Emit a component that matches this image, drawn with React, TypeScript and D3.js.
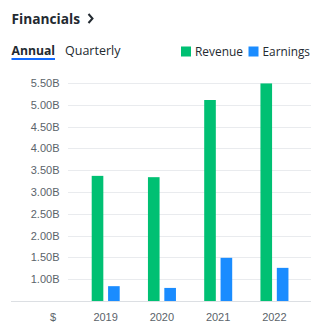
import React from "react";
import * as d3 from "d3";

const years = ["2019", "2020", "2021", "2022"];
const revenue = [3.37, 3.34, 5.11, 5.49];
const earnings = [0.84, 0.8, 1.49, 1.26];
const yTicks = [1.0, 1.5, 2.0, 2.5, 3.0, 3.5, 4.0, 4.5, 5.0, 5.5];
const series = ["Revenue", "Earnings"];
const colors = ["#00c073", "#1a8cff"];

const W = 321;
const H = 329;

export default function App() {
  const y = d3.scaleLinear().domain([0.5, 5.5]).range([301, 83]);
  const x0 = d3.scaleBand().domain(years).range([77.5, 302.5]).paddingInner(0).paddingOuter(0);
  const x1 = d3.scaleBand().domain(series).range([14.2, 42.2]).paddingInner(0.29).paddingOuter(0);
  const axisFont = "'Liberation Sans', Arial, sans-serif";
  const uiFont = "'Open Sans', 'Noto Sans', sans-serif";
  return (
    <svg width={W} height={H} style={{ position: "absolute", left: 0, top: 0, background: "#fff" }}>
      <text x={11.5} y={24} fontFamily={uiFont} fontWeight={700} fontSize={14.5} fill="#232a31" textLength={68.5} lengthAdjust="spacingAndGlyphs">Financials</text>
      <path d="M88.5,14 L92.5,18.5 L88.5,23" fill="none" stroke="#232a31" strokeWidth={2} />
      <text x={11.5} y={55} fontFamily={uiFont} fontWeight={700} fontSize={12.5} fill="#232a31" textLength={43.5} lengthAdjust="spacingAndGlyphs">Annual</text>
      <rect x={11.5} y={58} width={43.5} height={2} fill="#0f69ff" />
      <text x={65} y={55} fontFamily={uiFont} fontSize={12.5} fill="#232a31" textLength={55.5} lengthAdjust="spacingAndGlyphs">Quarterly</text>
      {series.map((s, i) => (
        <g key={s}>
          <rect x={i === 0 ? 181 : 248.5} y={46.5} width={10} height={10} fill={colors[i]} />
          <text x={i === 0 ? 195 : 262.5} y={56} fontFamily={uiFont} fontSize={12.5} fill="#232a31" textLength={i === 0 ? 48 : 47.5} lengthAdjust="spacingAndGlyphs">{s}</text>
        </g>
      ))}
      {yTicks.map((t) => (
        <g key={t}>
          <line x1={68} x2={311} y1={Math.round(y(t)) + 0.5} y2={Math.round(y(t)) + 0.5} stroke="#e9ebee" />
          <text x={59.5} y={y(t) + 4} textAnchor="end" fontFamily={axisFont} fontSize={11} fill="#5b636a">
            {d3.format(".2f")(t) + "B"}
          </text>
        </g>
      ))}
      {years.map((yr, i) => (
        <g key={yr} transform={`translate(${x0(yr)},0)`}>
          {[revenue[i], earnings[i]].map((v, j) => (
            <rect key={j} x={x1(series[j])} y={y(v)} width={x1.bandwidth()} height={y(0.5) - y(v)} fill={colors[j]} />
          ))}
          <text x={x0.bandwidth() / 2} y={320.5} textAnchor="middle" fontFamily={axisFont} fontSize={11} fill="#5b636a">{yr}</text>
        </g>
      ))}
      <line x1={11} x2={311} y1={301.5} y2={301.5} stroke="#dcdfe3" />
      <text x={56} y={320.5} textAnchor="end" fontFamily={axisFont} fontSize={11} fill="#5b636a">$</text>
    </svg>
  );
}
